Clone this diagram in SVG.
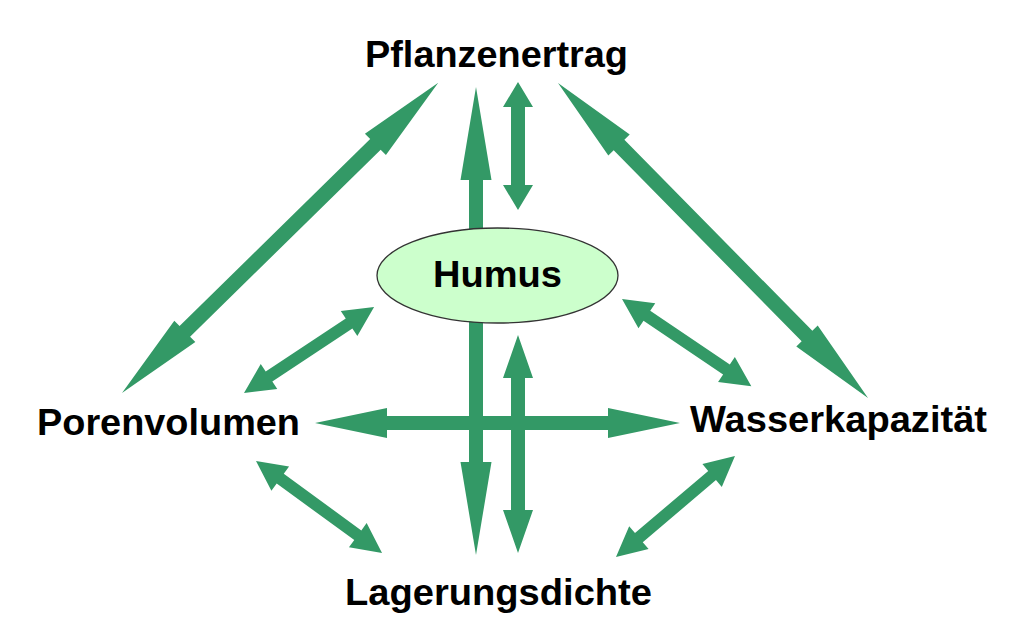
<svg xmlns="http://www.w3.org/2000/svg" width="1024" height="631" viewBox="0 0 1024 631">
<style>
.arr{fill:#339966;stroke:none}
.lbl{font-family:"Liberation Sans",Arial,sans-serif;font-weight:bold;font-size:36px;fill:#000;text-anchor:middle}
</style>
<rect width="1024" height="631" fill="#fff"/>
<g id="connectors">
<polygon class="arr" transform="translate(122,393) rotate(-44.45)" points="0,0 88,-15 88,-7.5 355,-7.5 355,-15 443,0 355,15 355,7.5 88,7.5 88,15"/>
<polygon class="arr" transform="translate(558,83) rotate(45.46)" points="0,0 87,-15 87,-7.5 355,-7.5 355,-15 442,0 355,15 355,7.5 87,7.5 87,15"/>
<polygon class="arr" transform="translate(244,393) rotate(-33.5)" points="0,0 30,-15 30,-6 126,-6 126,-15 156,0 126,15 126,6 30,6 30,15"/>
<polygon class="arr" transform="translate(256,461) rotate(36.1)" points="0,0 30,-15 30,-6 126,-6 126,-15 156,0 126,15 126,6 30,6 30,15"/>
<polygon class="arr" transform="translate(622,299) rotate(34)" points="0,0 30,-15 30,-6 126,-6 126,-15 156,0 126,15 126,6 30,6 30,15"/>
<polygon class="arr" transform="translate(616,557) rotate(-40.3)" points="0,0 30,-15 30,-6 126,-6 126,-15 156,0 126,15 126,6 30,6 30,15"/>
<polygon class="arr" transform="translate(315,423)" points="0,0 72,-15 72,-7 293,-7 293,-15 365,0 293,15 293,7 72,7 72,15"/>
<polygon class="arr" transform="translate(476,87) rotate(90)" points="0,0 93,-15.5 93,-7 375,-7 375,-15.5 468,0 375,15.5 375,7 93,7 93,15.5"/>
<polygon class="arr" transform="translate(518,82) rotate(90)" points="0,0 25,-15 25,-7 103,-7 103,-15 128,0 103,15 103,7 25,7 25,15"/>
<polygon class="arr" transform="translate(518,335) rotate(90)" points="0,0 43,-15 43,-7 175,-7 175,-15 218,0 175,15 175,7 43,7 43,15"/>
</g>
<g id="humus">
<ellipse cx="497.5" cy="275.5" rx="120.5" ry="47.5" fill="#ccffcc" stroke="#333" stroke-width="1.3"/>
<text class="lbl" x="497.5" y="287" textLength="129" lengthAdjust="spacingAndGlyphs">Humus</text>
</g>
<g id="pflanzenertrag">
<text class="lbl" x="496.5" y="67" textLength="263" lengthAdjust="spacingAndGlyphs">Pflanzenertrag</text>
</g>
<g id="porenvolumen">
<text class="lbl" x="168.5" y="435" textLength="263" lengthAdjust="spacingAndGlyphs">Porenvolumen</text>
</g>
<g id="wasserkapazitaet">
<text class="lbl" x="838.5" y="432" textLength="297" lengthAdjust="spacingAndGlyphs">Wasserkapazität</text>
</g>
<g id="lagerungsdichte">
<text class="lbl" x="498.5" y="605" textLength="307" lengthAdjust="spacingAndGlyphs">Lagerungsdichte</text>
</g>
</svg>
